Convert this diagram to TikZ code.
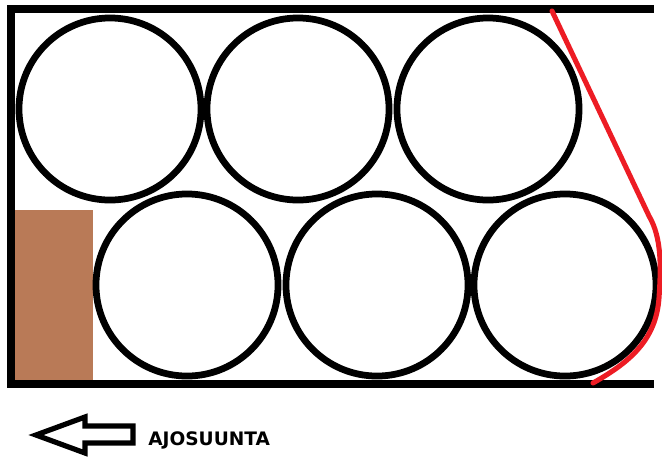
\documentclass[tikz,border=0pt]{standalone}
\usepackage{fontspec}
\usepackage{tikz}
\usetikzlibrary{positioning}
\newfontfamily\labelfont{DejaVu Sans}
\definecolor{paintred}{HTML}{ED1C24}
\definecolor{pallet}{HTML}{B97A57}

\begin{document}
\begin{tikzpicture}[
    x=0.025cm, y=-0.025cm,
    wall/.style={line width=5.4pt, line cap=rect},
    roll/.style={circle, draw, line width=4.8pt, minimum size=4.55cm, inner sep=0pt},
    cut/.style={draw=paintred, line width=3.6pt, line cap=round},
    dirarrow/.style={line width=3.7pt, line join=miter},
    dirlabel/.style={font=\labelfont\bfseries\fontsize{13.2}{15}\selectfont, anchor=west},
]
\useasboundingbox (0,0) rectangle (662,461);
% pallet in the corner
\fill[pallet] (15,210) rectangle (93,382);
% load space
\draw[wall] (650,9) -- (11,9) -- (11,384) -- (650,384);
% upper row
\node[roll] (r1) at (110,109) {};
\node[roll] (r2) at (298,109) {};
\node[roll] (r3) at (488,109) {};
% lower row
\node[roll] (r4) at (187,285) {};
\node[roll] (r5) at (377,285) {};
\node[roll] (r6) at (565,285) {};
% red outline
\draw[cut] (552,11) -- (649,216) .. controls (662,238) and (661,268) .. (659,298)
    .. controls (656,340) and (630,362) .. (593,383);
% driving direction
\draw[dirarrow] (36,435) -- (85,417) -- (85,426) -- (133,426) -- (133,443) -- (85,443) -- (85,453) -- cycle;
\node[dirlabel, inner sep=0pt] (dir) at (148,440) {AJOSUUNTA};
\end{tikzpicture}
\end{document}
